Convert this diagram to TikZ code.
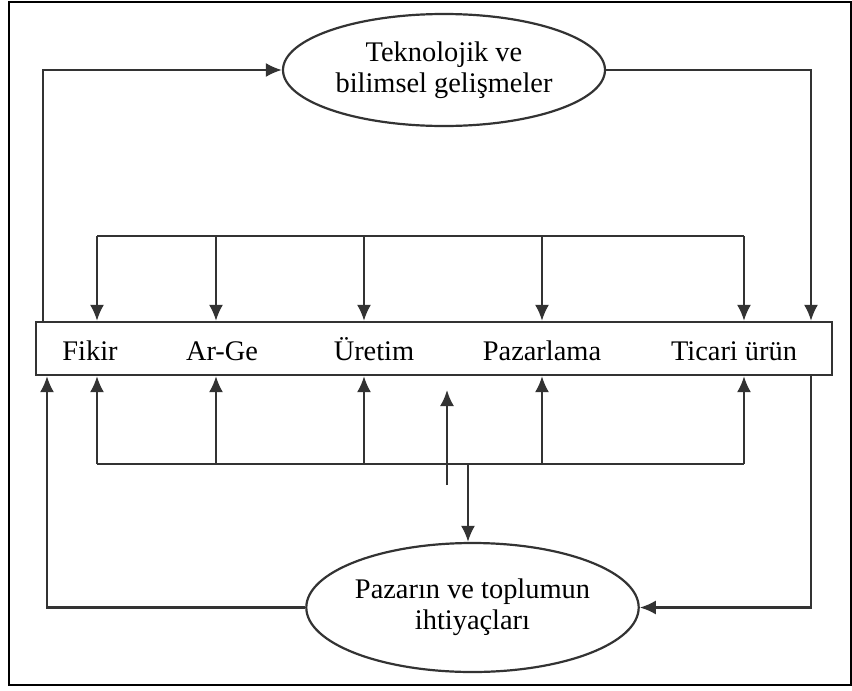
\documentclass[tikz,border=0pt]{standalone}
\usepackage{fontspec}
\setmainfont{Liberation Serif}
\usetikzlibrary{arrows.meta,shapes.geometric}
\definecolor{Ink}{HTML}{333333}

\begin{document}
\begin{tikzpicture}[x=0.5pt,y=-0.5pt,font=\fontsize{14.2}{15.6}\selectfont,>={Latex[length=8pt,width=7pt]},oval/.style={draw=Ink,ellipse,line width=1.1pt,inner sep=0pt,align=center},strip/.style={draw=Ink,rectangle,line width=1.1pt,inner sep=0pt,minimum width=398pt,minimum height=26.5pt},stage/.style={anchor=base,inner sep=0pt},flow/.style={->,line width=1.1pt,draw=Ink},wire/.style={line width=1.1pt,draw=Ink}]
 \useasboundingbox (0,0) rectangle (852,691);
 \draw[line width=1.2pt] (9,2) rectangle (851.5,685);
 \node[oval,minimum width=161pt,minimum height=56pt] (tech) at (444,70) {Teknolojik ve\\bilimsel gelişmeler};
 \node[oval,minimum width=162.5pt,minimum height=64.5pt] (need) at (472.5,607.5) {Pazarın ve toplumun\\ihtiyaçları};
 \node[strip] (chain) at (434,348.5) {};
 \node[stage] (fikir) at (90,360) {Fikir};
 \node[stage] (arge) at (222,360) {Ar-Ge};
 \node[stage] (uretim) at (374,360) {Üretim};
 \node[stage] (pazar) at (542,360) {Pazarlama};
 \node[stage] (ticari) at (734,360) {Ticari ürün};
 % feedback buses above and below the chain
 \coordinate (t1) at (97,236); \coordinate (t2) at (216,236); \coordinate (t3) at (364,236);
 \coordinate (t4) at (542,236); \coordinate (t5) at (744,236);
 \coordinate (b1) at (97,464); \coordinate (b2) at (216,464); \coordinate (b3) at (364,464);
 \coordinate (b4) at (542,464); \coordinate (b5) at (744,464);
 \draw[wire] (t1)--(t5);
 \draw[flow] (t1)--(t1 |- chain.north); \draw[flow] (t2)--(t2 |- chain.north);
 \draw[flow] (t3)--(t3 |- chain.north); \draw[flow] (t4)--(t4 |- chain.north);
 \draw[flow] (t5)--(t5 |- chain.north);
 \draw[wire] (b1)--(b5);
 \draw[flow] (b1)--(b1 |- chain.south); \draw[flow] (b2)--(b2 |- chain.south);
 \draw[flow] (b3)--(b3 |- chain.south); \draw[flow] (b4)--(b4 |- chain.south);
 \draw[flow] (b5)--(b5 |- chain.south);
 % middle pair
 \coordinate (up) at (447,485); \coordinate (uptip) at (447,390);
 \coordinate (down) at (468,464);
 \draw[flow] (up)--(uptip);
 \draw[flow] (down)--(down |- need.north);
 % outer loops
 \coordinate (tl) at (43,0); \coordinate (tr) at (811,0); \coordinate (bl) at (47,0);
 \draw[flow] (tl |- chain.north) |- (tech.west);
 \draw[flow] (tech.east) -| (tr |- chain.north);
 \draw[flow] (need.west) -| (bl |- chain.south);
 \draw[flow] (tr |- chain.south) |- (need.east);
\end{tikzpicture}
\end{document}
